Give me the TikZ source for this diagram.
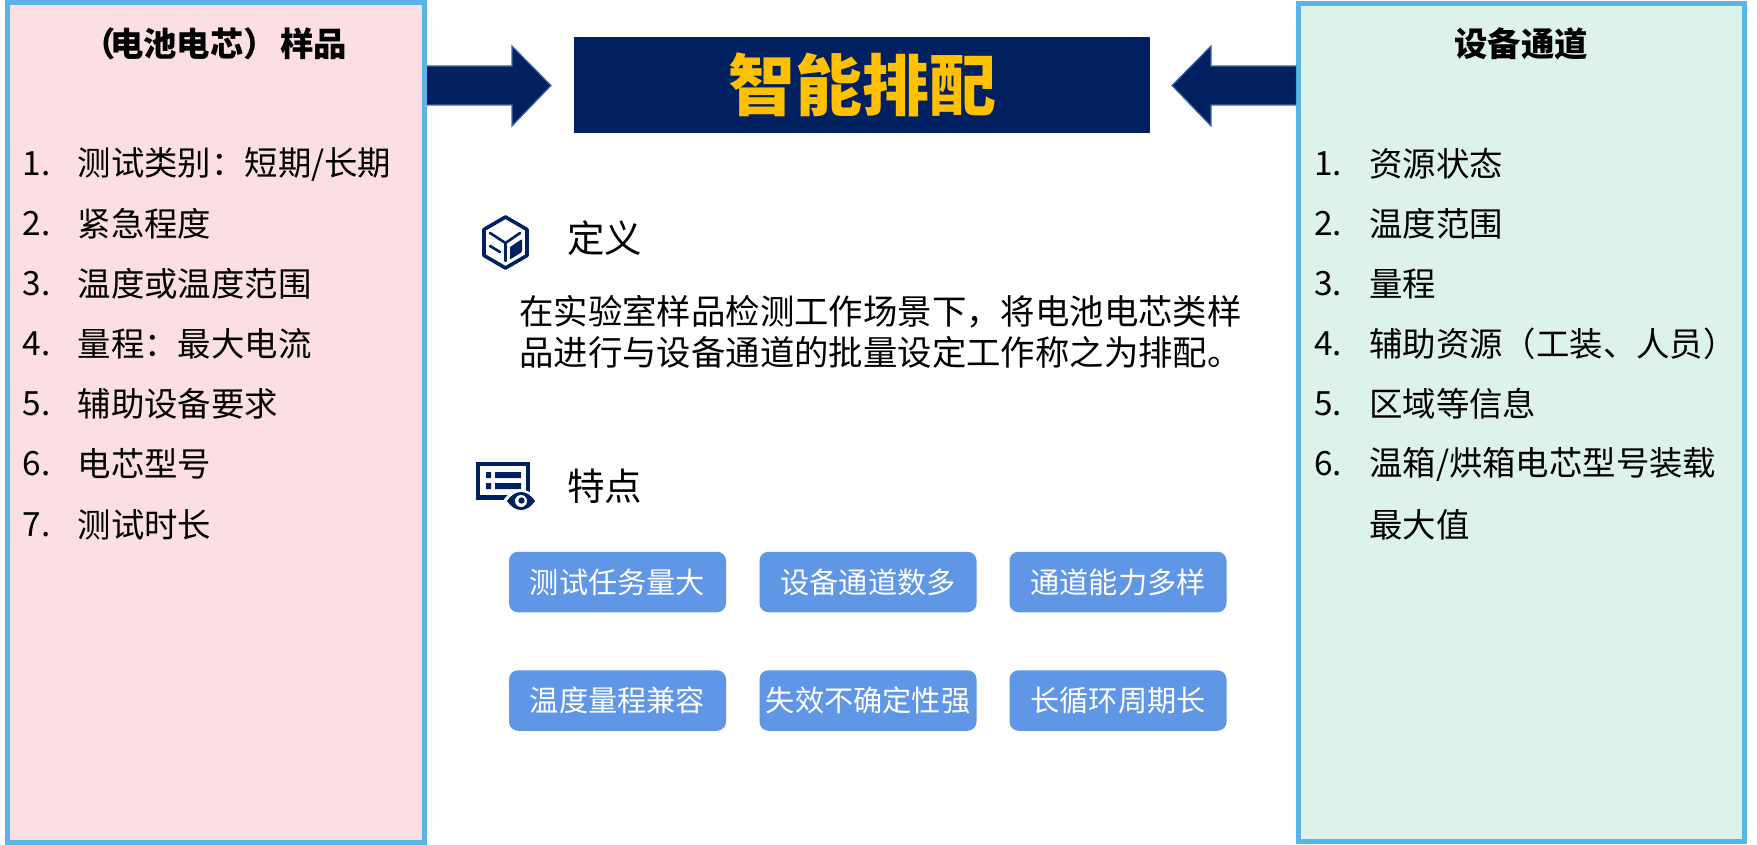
\documentclass[tikz,border=0pt]{standalone}
\usepackage{fontspec}
\setmainfont{Noto Sans CJK SC}
\definecolor{navy}{HTML}{002060}
\definecolor{edgeblue}{HTML}{5AB4E6}
\definecolor{pinkfill}{HTML}{FBDFE3}
\definecolor{mintfill}{HTML}{DDF3E9}
\definecolor{btn}{HTML}{5F96E6}
\definecolor{gold}{HTML}{FFC000}
\definecolor{arrowedge}{HTML}{3F6CA8}
\newcommand{\fs}[1]{\fontsize{#1}{#1}\selectfont}
\tikzset{x=1pt,y=-1pt,
 panel/.style={draw=edgeblue,line width=5pt,inner sep=0pt,outer sep=0pt},
 numlabel/.style={anchor=west,inner sep=0pt,font=\fs{33.4}},
 itemlabel/.style={anchor=west,inner sep=0pt,font=\fs{33.4}},
 headlabel/.style={inner sep=0pt,font=\fs{33.4}\bfseries},
 sublabel/.style={anchor=west,inner sep=0pt,font=\fs{37.5}},
 bodylabel/.style={anchor=west,inner sep=0pt,font=\fs{34.4}},
 pill/.style={fill=btn,rounded corners=9pt,minimum width=217pt,minimum height=60.5pt,inner sep=0pt,text=white,font=\fs{29.2}},
 blockarrow/.style={fill=navy,draw=arrowedge,line width=1.2pt,line join=miter},
 iconline/.style={draw=navy,line cap=round,line join=round}
}
\begin{document}
\begin{tikzpicture}
\useasboundingbox (0,0) rectangle (1757,845);
\fill[white] (0,0) rectangle (1757,845);
% panels
\node[panel,fill=pinkfill,minimum width=416.5pt,minimum height=840pt,anchor=north west] (leftpanel) at (7.5,2.5) {};
\node[panel,fill=mintfill,minimum width=446pt,minimum height=838pt,anchor=north west] (rightpanel) at (1298.5,3.5) {};
% title
\node[fill=navy,minimum width=576pt,minimum height=96pt,inner sep=0pt,text=gold,font=\fs{67}\bfseries] (title) at (862,85) {\hspace{1.5pt}智能排配};
% arrows
\draw[blockarrow] (427,66) -- (512,66) -- (512,46) -- (551,85.5) -- (512,126) -- (512,105) -- (427,105);
\draw[blockarrow] (1296,66) -- (1211,66) -- (1211,46) -- (1172,85.5) -- (1211,126) -- (1211,105) -- (1296,105);
% left list
\node[headlabel,anchor=west] (lefthead) at (82,44) {（\kern-5.5pt 电池电芯）\kern3pt 样品};
\foreach \n/\t/\y in {1/{测试类别：短期/长期}/164,2/紧急程度/224,3/温度或温度范围/284,4/量程：最大电流/344,5/辅助设备要求/404,6/电芯型号/464,7/测试时长/525}{
 \node[numlabel] (ln\n) at (22.5,\y) {\n.};
 \node[itemlabel] (lt\n) at (77.5,\y) {\t};
}
% right list
\node[headlabel] (righthead) at (1521,44) {设备通道};
\foreach \n/\t/\y in {1/资源状态/164,2/温度范围/224,3/量程/284,4/辅助资源（工装、人员）/344,5/区域等信息/404,6/{温箱/烘箱电芯型号装载}/464}{
 \node[numlabel] (rn\n) at (1314,\y) {\n.};
 \node[itemlabel] (rt\n) at (1369,\y) {\t};
}
\node[itemlabel] (rt7) at (1369,525) {最大值};
% definition
\node[sublabel] (defhead) at (567,238) {定义};
\node[bodylabel] (body1) at (519,312) {在实验室样品检测工作场景下，将电池电芯类样};
\node[bodylabel] (body2) at (519,352) {品进行与设备通道的批量设定工作称之为排配。};
\node[sublabel] (feathead) at (567,486) {特点};
% hex icon
\draw[iconline,line width=3.6pt] (505.5,217) -- (527,229.5) -- (527,255.5) -- (505.5,268) -- (484,255.5) -- (484,229.5) -- cycle;
\draw[iconline,line width=2.6pt] (490,233) -- (505.5,243) -- (520,233);
\draw[iconline,line width=2.6pt] (490,246) -- (500,252);
\draw[iconline,line width=2.2pt] (505.5,243) -- (505.5,261);
\fill[navy,rounded corners=1pt] (510,247) -- (522,239) -- (522,252) -- (510,259.5) -- cycle;
% list icon
\fill[navy] (476,462) rectangle (530,500);
\fill[white] (480,466) rectangle (526,495);
\fill[navy] (486,472) rectangle (491,478) (495,472) rectangle (521,478)
            (486,483) rectangle (491,489) (495,483) rectangle (521,489);
\fill[white] (503,501) .. controls (512,486) and (530,486) .. (539,501) .. controls (530,514) and (512,514) .. (503,501) -- cycle;
\fill[navy] (507,501) .. controls (515,489) and (527,489) .. (535,501) .. controls (527,513) and (515,513) .. (507,501) -- cycle;
\fill[white] (521,501) circle (6pt);
\fill[navy] (521.5,500.5) circle (3.2pt);
% pills
\node[pill] (p1) at (617.5,582) {测试任务量大};
\node[pill] (p2) at (868,582) {设备通道数多};
\node[pill] (p3) at (1118,582) {通道能力多样};
\node[pill] (p4) at (617.5,700.5) {温度量程兼容};
\node[pill] (p5) at (868,700.5) {失效不确定性强};
\node[pill] (p6) at (1118,700.5) {长循环周期长};
\end{tikzpicture}
\end{document}
